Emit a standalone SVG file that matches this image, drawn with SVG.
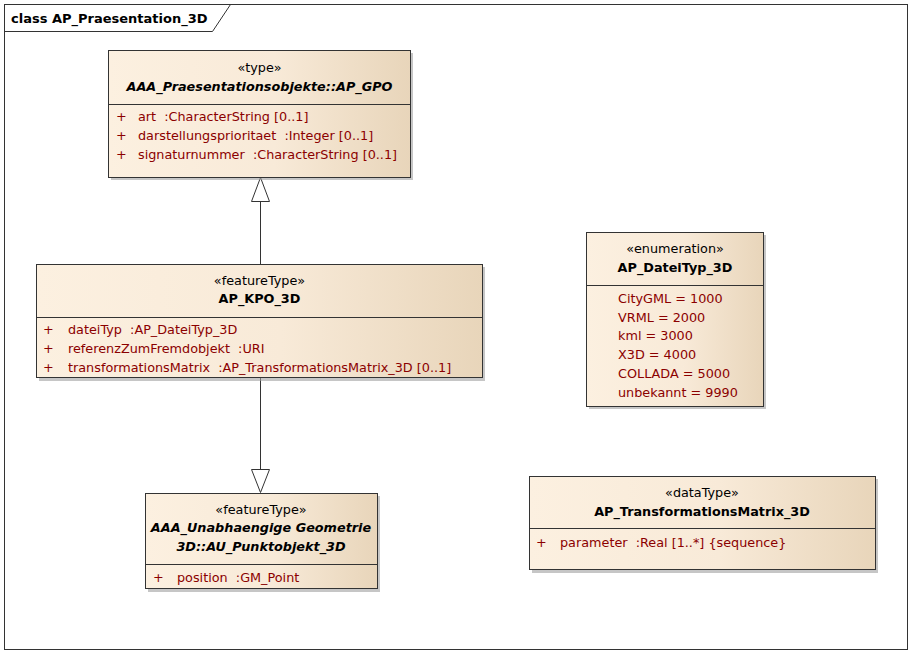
<svg xmlns="http://www.w3.org/2000/svg" width="913" height="655" viewBox="0 0 913 655">
<defs>
<linearGradient id="g" x1="0" y1="0" x2="1" y2="0">
<stop offset="0" stop-color="#FCF0E0"/>
<stop offset="0.55" stop-color="#F8EAD8"/>
<stop offset="1" stop-color="#E8D5BA"/>
</linearGradient>
</defs>
<style>
text{font-family:"DejaVu Sans","Liberation Sans",sans-serif;font-size:12.8px;fill:#000;white-space:pre}
.st{text-anchor:middle}
.nm{text-anchor:middle;font-weight:bold}
.it{font-style:italic}
.at{fill:#8B0000}
.box{fill:url(#g);stroke:#333;stroke-width:1}
.sh{fill:#A0A0A0;opacity:0.6}
.dv{stroke:#333;stroke-width:1}
.ln{stroke:#333;stroke-width:1;fill:none}
.tri{fill:#fff;stroke:#333;stroke-width:1}
</style>
<rect x="0" y="0" width="913" height="655" fill="#fff"/>
<g id="frame">
<rect x="4.5" y="4.5" width="903" height="645" fill="none" stroke="#333"/>
<polyline points="4.5,31.5 212.5,31.5 230.5,4.5" class="ln"/>
<text x="11" y="23" style="font-weight:bold;font-size:13px">class AP_Praesentation_3D</text>
</g>
<g id="connectors">
<line x1="260.5" y1="201" x2="260.5" y2="264" class="ln"/>
<polygon points="260.5,177.5 251.5,201.5 269.5,201.5" class="tri"/>
<line x1="260.5" y1="378" x2="260.5" y2="470" class="ln"/>
<polygon points="260.5,492.5 251.5,469.5 269.5,469.5" class="tri"/>
</g>
<g id="AP_GPO">
<rect x="111" y="53" width="302" height="127" class="sh"/>
<rect x="108.5" y="50.5" width="302" height="127" class="box"/>
<line x1="108.5" y1="104.5" x2="410.5" y2="104.5" class="dv"/>
<text x="259.5" y="72" class="st">«type»</text>
<text x="259.5" y="91" class="nm it">AAA_Praesentationsobjekte::AP_GPO</text>
<text x="116" y="121" class="at">+</text><text x="138" y="121" class="at">art  :CharacterString [0..1]</text>
<text x="116" y="140" class="at">+</text><text x="138" y="140" class="at">darstellungsprioritaet  :Integer [0..1]</text>
<text x="116" y="159" class="at">+</text><text x="138" y="159" class="at">signaturnummer  :CharacterString [0..1]</text>
</g>
<g id="AP_KPO_3D">
<rect x="39" y="267" width="446" height="114" class="sh"/>
<rect x="36.5" y="264.5" width="446" height="113" class="box"/>
<line x1="36.5" y1="317.5" x2="482.5" y2="317.5" class="dv"/>
<text x="259.5" y="285" class="st">«featureType»</text>
<text x="259.5" y="303" class="nm">AP_KPO_3D</text>
<text x="43" y="334" class="at">+</text><text x="68" y="334" class="at">dateiTyp  :AP_DateiTyp_3D</text>
<text x="43" y="353" class="at">+</text><text x="68" y="353" class="at">referenzZumFremdobjekt  :URI</text>
<text x="43" y="372" class="at">+</text><text x="68" y="372" class="at">transformationsMatrix  :AP_TransformationsMatrix_3D [0..1]</text>
</g>
<g id="AU_Punktobjekt_3D">
<rect x="148" y="496" width="232" height="96" class="sh"/>
<rect x="145.5" y="493.5" width="232" height="95" class="box"/>
<line x1="145.5" y1="564.5" x2="377.5" y2="564.5" class="dv"/>
<text x="261" y="514" class="st">«featureType»</text>
<text x="261" y="532" class="nm it">AAA_Unabhaengige Geometrie</text>
<text x="261" y="551" class="nm it">3D::AU_Punktobjekt_3D</text>
<text x="153" y="582" class="at">+</text><text x="177" y="582" class="at">position  :GM_Point</text>
</g>
<g id="AP_DateiTyp_3D">
<rect x="589" y="235" width="177" height="174" class="sh"/>
<rect x="586.5" y="232.5" width="177" height="174" class="box"/>
<line x1="586.5" y1="285.5" x2="763.5" y2="285.5" class="dv"/>
<text x="675" y="253" class="st">«enumeration»</text>
<text x="675" y="272" class="nm">AP_DateiTyp_3D</text>
<text x="618" y="303" class="at">CityGML = 1000</text>
<text x="618" y="322" class="at">VRML = 2000</text>
<text x="618" y="340" class="at">kml = 3000</text>
<text x="618" y="359" class="at">X3D = 4000</text>
<text x="618" y="378" class="at">COLLADA = 5000</text>
<text x="618" y="397" class="at">unbekannt = 9990</text>
</g>
<g id="AP_TransformationsMatrix_3D">
<rect x="532" y="479" width="346" height="94" class="sh"/>
<rect x="529.5" y="476.5" width="346" height="93" class="box"/>
<line x1="529.5" y1="528.5" x2="875.5" y2="528.5" class="dv"/>
<text x="702" y="497" class="st">«dataType»</text>
<text x="702" y="516" class="nm">AP_TransformationsMatrix_3D</text>
<text x="536" y="547" class="at">+</text><text x="560" y="547" class="at">parameter  :Real [1..*] {sequence}</text>
</g>
</svg>
